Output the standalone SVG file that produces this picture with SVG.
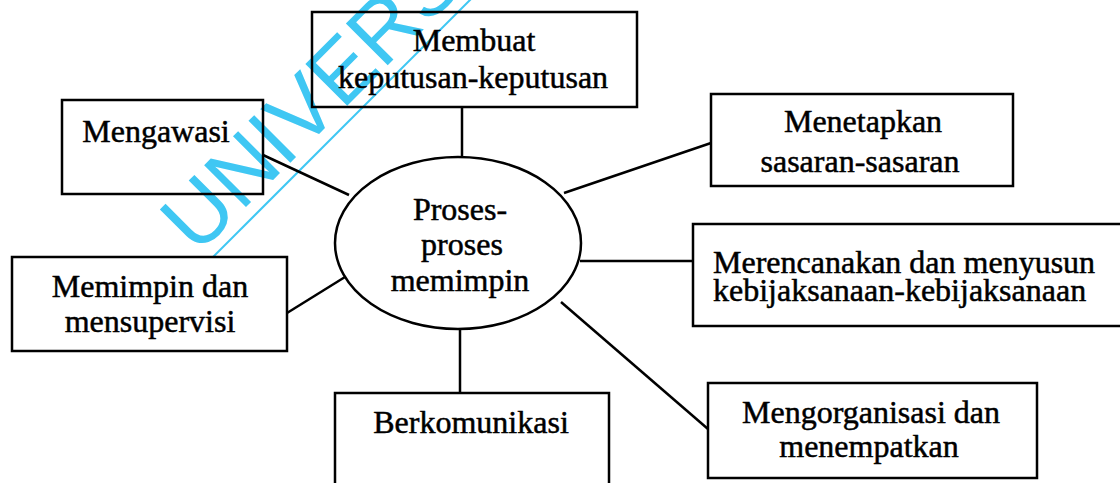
<svg xmlns="http://www.w3.org/2000/svg" width="1120" height="483" viewBox="0 0 1120 483">
  <style>
    .box { fill: none; stroke: #000; stroke-width: 2.5; }
    .conn { fill: none; stroke: #000; stroke-width: 2.5; }
    .t { font-family: "Liberation Serif", "Times New Roman", serif; font-size: 32px; fill: #000; stroke: #000; stroke-width: 0.5; text-anchor: middle; }
    .ts { text-anchor: start; }
    .wm { font-family: "Liberation Sans", Arial, sans-serif; font-size: 86px; fill: #3fc7f3; }
  </style>
  <rect width="1120" height="483" fill="#fff"/>
  <g id="watermark">
    <text class="wm" transform="translate(197,256) rotate(-45)">UNIVERS</text>
    <line x1="213" y1="257" x2="480" y2="-10" stroke="#3fc7f3" stroke-width="2"/>
  </g>
  <g id="connectors">
    <line class="conn" x1="462" y1="107" x2="462" y2="157"/>
    <line class="conn" x1="263" y1="155" x2="349" y2="195"/>
    <line class="conn" x1="287" y1="313" x2="345" y2="277"/>
    <line class="conn" x1="564" y1="193" x2="711" y2="143"/>
    <line class="conn" x1="580" y1="261" x2="693" y2="261"/>
    <line class="conn" x1="561" y1="302" x2="708" y2="429"/>
    <line class="conn" x1="460" y1="328" x2="460" y2="393"/>
  </g>
  <g id="center">
    <ellipse class="box" cx="458" cy="243" rx="123" ry="86"/>
    <text class="t" x="460" y="220">Proses-</text>
    <text class="t" x="462" y="255">proses</text>
    <text class="t" x="460" y="291">memimpin</text>
  </g>
  <g id="membuat">
    <rect class="box" x="312" y="12" width="325" height="95"/>
    <text class="t" x="474" y="51">Membuat</text>
    <text class="t" x="473" y="88">keputusan-keputusan</text>
  </g>
  <g id="mengawasi">
    <rect class="box" x="62" y="100" width="201" height="94"/>
    <text class="t" x="156" y="142">Mengawasi</text>
  </g>
  <g id="memimpin">
    <rect class="box" x="12" y="257" width="275" height="94"/>
    <text class="t" x="150" y="297">Memimpin dan</text>
    <text class="t" x="150" y="332">mensupervisi</text>
  </g>
  <g id="menetapkan">
    <rect class="box" x="711" y="94" width="302" height="92"/>
    <text class="t" x="863" y="132">Menetapkan</text>
    <text class="t" x="860" y="172">sasaran-sasaran</text>
  </g>
  <g id="merencanakan">
    <rect class="box" x="693" y="224" width="460" height="102"/>
    <text class="t ts" x="713" y="273">Merencanakan dan menyusun</text>
    <text class="t ts" x="713" y="301">kebijaksanaan-kebijaksanaan</text>
  </g>
  <g id="mengorganisasi">
    <rect class="box" x="708" y="383" width="329" height="95"/>
    <text class="t" x="871" y="423">Mengorganisasi dan</text>
    <text class="t" x="869" y="457">menempatkan</text>
  </g>
  <g id="berkomunikasi">
    <rect class="box" x="335" y="393" width="274" height="120"/>
    <text class="t" x="471" y="433">Berkomunikasi</text>
  </g>
</svg>
